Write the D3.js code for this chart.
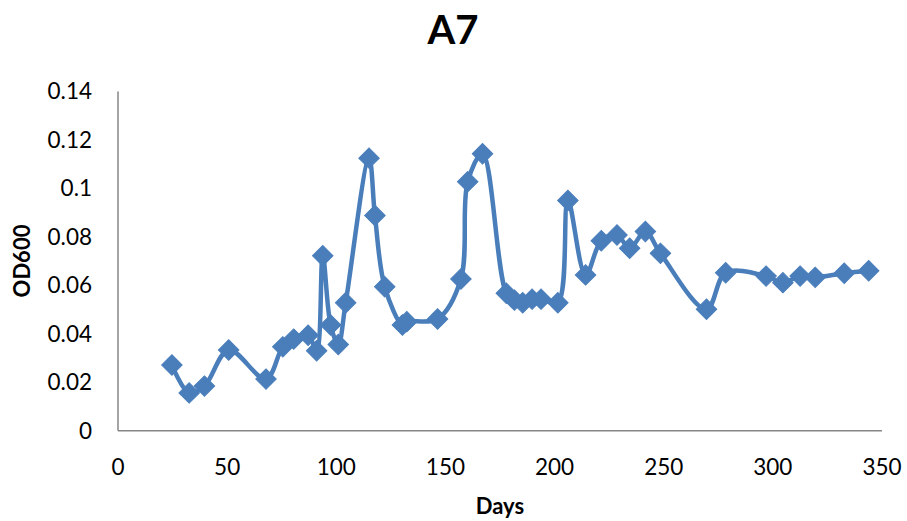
<!DOCTYPE html>
<html><head><meta charset="utf-8">
<script src="https://cdn.jsdelivr.net/npm/d3@7"></script>
<style>body{margin:0;background:#fff;}svg{display:block;}</style>
</head><body>
<svg id="c" width="907" height="521"></svg>
<script>
const title = "A7";
const xLabel = "Days";
const yLabel = "OD600";
const days = [24.7,32.6,39.6,50.7,67.8,75.5,80.5,87.1,91,93.8,97.4,100.9,104.3,115,117.7,122.2,130.3,132.3,146.4,157.1,160.2,167,177.9,181.6,185.4,189.7,193.8,201.5,206.1,214.2,221.4,228.6,234.4,241.6,248.5,269.6,278.4,296.9,304.6,312.5,319.4,332.7,343.9];
const od600 = [0.0271,0.0156,0.0184,0.0333,0.0213,0.0346,0.0378,0.0394,0.033,0.0722,0.0436,0.0356,0.0528,0.1125,0.0888,0.0594,0.0436,0.045,0.0461,0.0626,0.1028,0.1143,0.0567,0.0539,0.0528,0.0543,0.0543,0.0528,0.095,0.0643,0.0784,0.0808,0.0753,0.0822,0.0732,0.0501,0.0652,0.0638,0.0611,0.0638,0.0633,0.065,0.066];
const xTicks = [0,50,100,150,200,250,300,350];
const yTicks = [0,0.02,0.04,0.06,0.08,0.1,0.12,0.14];

const svg = d3.select("#c");
const x = d3.scaleLinear().domain([0,350]).range([118,882]);
const y = d3.scaleLinear().domain([0,0.14]).range([430.7,91.5]);
const font = "Lato, 'Open Sans', sans-serif";
const color = "#4a7ebb";

svg.append("line").attr("x1",x(0)).attr("x2",x(0)).attr("y1",y(0.14)).attr("y2",y(0))
  .attr("stroke","#868686").attr("stroke-width",1.5);
svg.append("line").attr("x1",x(0)).attr("x2",x(350)).attr("y1",y(0)).attr("y2",y(0))
  .attr("stroke","#868686").attr("stroke-width",1.5);

svg.append("g").selectAll("text").data(yTicks).join("text")
  .attr("x",92).attr("y",d=>y(d)).attr("dy","0.35em").attr("text-anchor","end")
  .attr("font-family",font).attr("font-size",22.5).attr("fill","#000")
  .text(d=>d3.format("")(+d.toFixed(2)));
svg.append("g").selectAll("text").data(xTicks).join("text")
  .attr("x",d=>x(d)).attr("y",467).attr("dy","0.35em").attr("text-anchor","middle")
  .attr("font-family",font).attr("font-size",22.5).attr("fill","#000")
  .text(d=>d);

svg.append("text").attr("x",453).attr("y",30).attr("dy","0.35em").attr("text-anchor","middle")
  .attr("font-family",font).attr("font-weight","bold").attr("font-size",40).text(title);
svg.append("text").attr("x",500).attr("y",506).attr("dy","0.35em").attr("text-anchor","middle")
  .attr("font-family",font).attr("font-weight","bold").attr("font-size",22).text(xLabel);
svg.append("text").attr("transform","translate(22,261) rotate(-90)").attr("dy","0.35em").attr("text-anchor","middle")
  .attr("font-family",font).attr("font-weight","bold").attr("font-size",22).text(yLabel);

const data = days.map((d,i)=>({d, v: od600[i]}));
const line = d3.line().x(p=>x(p.d)).y(p=>y(p.v)).curve(d3.curveCatmullRom.alpha(0.5));
svg.append("path").datum(data).attr("d",line).attr("fill","none")
  .attr("stroke",color).attr("stroke-width",4.5).attr("stroke-linejoin","round");

const sym = d3.symbol().type(d3.symbolSquare).size(210);
svg.append("g").selectAll("path").data(data).join("path")
  .attr("d",sym()).attr("transform",p=>`translate(${x(p.d)},${y(p.v)}) rotate(45)`)
  .attr("fill",color).attr("stroke",color).attr("stroke-width",1);
</script>
</body></html>
